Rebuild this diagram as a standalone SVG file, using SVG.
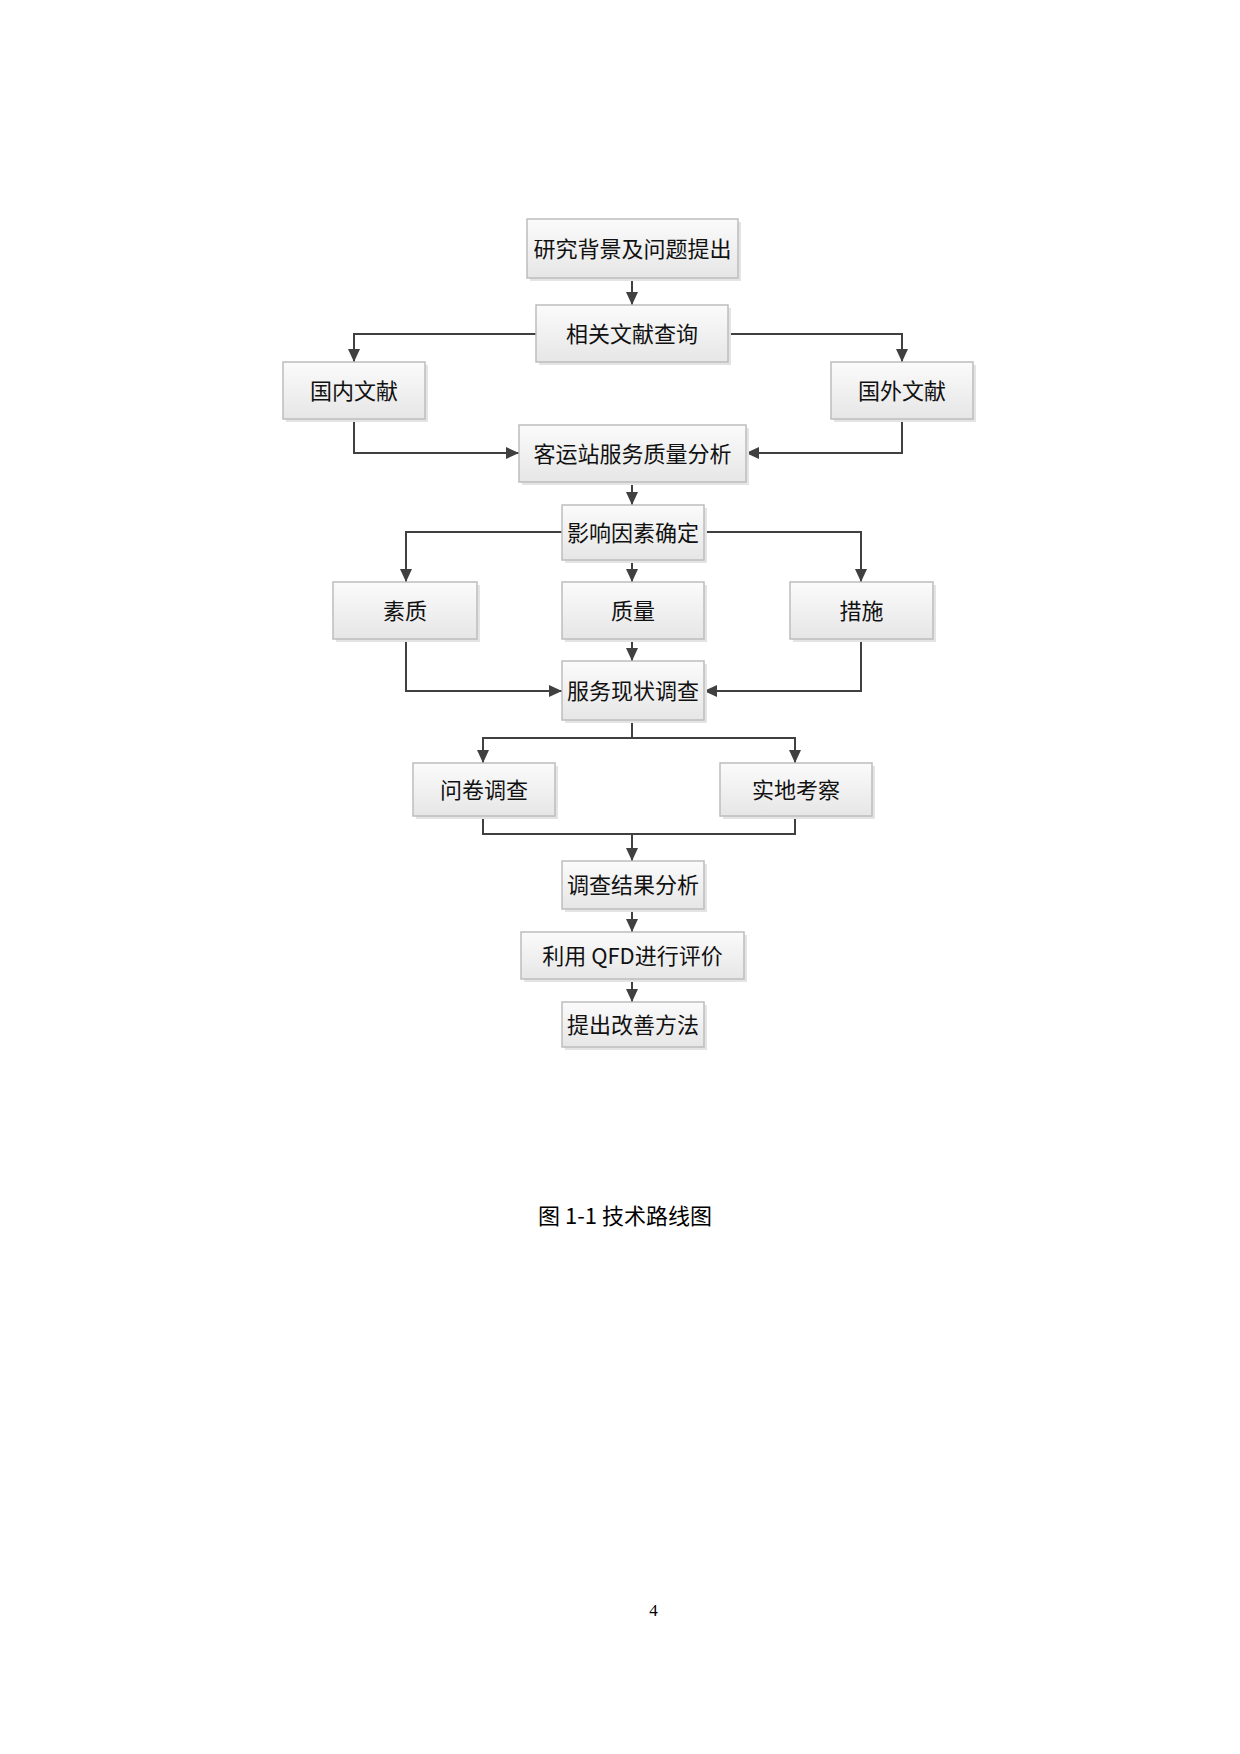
<svg xmlns="http://www.w3.org/2000/svg" width="1240" height="1754" viewBox="0 0 1240 1754">
<style>
.box{fill:url(#g);stroke:#bdbdbd;stroke-width:1.5}
.sh{fill:#e4e4e4}
.t{font-family:"Noto Sans CJK SC","Liberation Sans",sans-serif;font-size:22px;fill:#111;text-anchor:middle;dominant-baseline:central}
.c{fill:none;stroke:#404040;stroke-width:2}
</style>
<defs>
<linearGradient id="g" x1="0" y1="0" x2="0" y2="1">
<stop offset="0" stop-color="#fbfbfb"/>
<stop offset="1" stop-color="#e6e6e6"/>
</linearGradient>
<marker id="a" markerUnits="userSpaceOnUse" markerWidth="13" markerHeight="12" refX="13" refY="6" orient="auto">
<path d="M0,0 L13,6 L0,12 z" fill="#404040"/>
</marker>
</defs>
<rect width="1240" height="1754" fill="#fff"/>
<g id="connectors">
<path class="c" marker-end="url(#a)" d="M632,278 V305"/>
<path class="c" marker-end="url(#a)" d="M536,334 H354 V362"/>
<path class="c" marker-end="url(#a)" d="M728,334 H902 V362"/>
<path class="c" marker-end="url(#a)" d="M354,419 V453 H519"/>
<path class="c" marker-end="url(#a)" d="M902,419 V453 H746"/>
<path class="c" marker-end="url(#a)" d="M632,482 V505"/>
<path class="c" marker-end="url(#a)" d="M562,532 H406 V582"/>
<path class="c" marker-end="url(#a)" d="M632,560 V582"/>
<path class="c" marker-end="url(#a)" d="M704,532 H861 V582"/>
<path class="c" marker-end="url(#a)" d="M406,639 V691 H562"/>
<path class="c" marker-end="url(#a)" d="M861,639 V691 H704"/>
<path class="c" marker-end="url(#a)" d="M632,639 V661"/>
<path class="c" d="M632,720 V738"/>
<path class="c" marker-end="url(#a)" d="M632,738 H483 V763"/>
<path class="c" marker-end="url(#a)" d="M632,738 H795 V763"/>
<path class="c" d="M483,816 V834 H795 V816"/>
<path class="c" marker-end="url(#a)" d="M632,834 V861"/>
<path class="c" marker-end="url(#a)" d="M632,909 V932"/>
<path class="c" marker-end="url(#a)" d="M632,979 V1002"/>
</g>
<g id="n1"><rect class="sh" x="530" y="222" width="211" height="59"/><rect class="box" x="527" y="219" width="211" height="59"/><text class="t" x="632.5" y="246.5">研究背景及问题提出</text></g>
<g id="n2"><rect class="sh" x="539" y="308" width="192" height="57"/><rect class="box" x="536" y="305" width="192" height="57"/><text class="t" x="632" y="331.5">相关文献查询</text></g>
<g id="n3"><rect class="sh" x="286" y="365" width="142" height="57"/><rect class="box" x="283" y="362" width="142" height="57"/><text class="t" x="354" y="388.5">国内文献</text></g>
<g id="n4"><rect class="sh" x="834" y="365" width="142" height="57"/><rect class="box" x="831" y="362" width="142" height="57"/><text class="t" x="902" y="388.5">国外文献</text></g>
<g id="n5"><rect class="sh" x="522" y="428" width="227" height="57"/><rect class="box" x="519" y="425" width="227" height="57"/><text class="t" x="632.5" y="451.5">客运站服务质量分析</text></g>
<g id="n6"><rect class="sh" x="565" y="508" width="142" height="55"/><rect class="box" x="562" y="505" width="142" height="55"/><text class="t" x="633" y="530.5">影响因素确定</text></g>
<g id="n7"><rect class="sh" x="336" y="585" width="144" height="57"/><rect class="box" x="333" y="582" width="144" height="57"/><text class="t" x="405" y="608.5">素质</text></g>
<g id="n8"><rect class="sh" x="565" y="585" width="142" height="57"/><rect class="box" x="562" y="582" width="142" height="57"/><text class="t" x="633" y="608.5">质量</text></g>
<g id="n9"><rect class="sh" x="793" y="585" width="143" height="57"/><rect class="box" x="790" y="582" width="143" height="57"/><text class="t" x="861.5" y="608.5">措施</text></g>
<g id="n10"><rect class="sh" x="565" y="664" width="142" height="59"/><rect class="box" x="562" y="661" width="142" height="59"/><text class="t" x="633" y="688.5">服务现状调查</text></g>
<g id="n11"><rect class="sh" x="416" y="766" width="142" height="53"/><rect class="box" x="413" y="763" width="142" height="53"/><text class="t" x="484" y="787.5">问卷调查</text></g>
<g id="n12"><rect class="sh" x="723" y="766" width="152" height="53"/><rect class="box" x="720" y="763" width="152" height="53"/><text class="t" x="796" y="787.5">实地考察</text></g>
<g id="n13"><rect class="sh" x="565" y="864" width="142" height="48"/><rect class="box" x="562" y="861" width="142" height="48"/><text class="t" x="633" y="883">调查结果分析</text></g>
<g id="n14"><rect class="sh" x="524" y="935" width="223" height="47"/><rect class="box" x="521" y="932" width="223" height="47"/><text class="t" x="632.5" y="953.5">利用 QFD进行评价</text></g>
<g id="n15"><rect class="sh" x="565" y="1005" width="142" height="45"/><rect class="box" x="562" y="1002" width="142" height="45"/><text class="t" x="633" y="1022.5">提出改善方法</text></g>
<text x="625" y="1224" font-family="Noto Sans CJK SC,Liberation Sans,sans-serif" font-size="22" fill="#000" text-anchor="middle">图 1-1 技术路线图</text>
<text x="653.5" y="1616" font-family="Liberation Serif,serif" font-size="17" fill="#000" text-anchor="middle">4</text>
</svg>
